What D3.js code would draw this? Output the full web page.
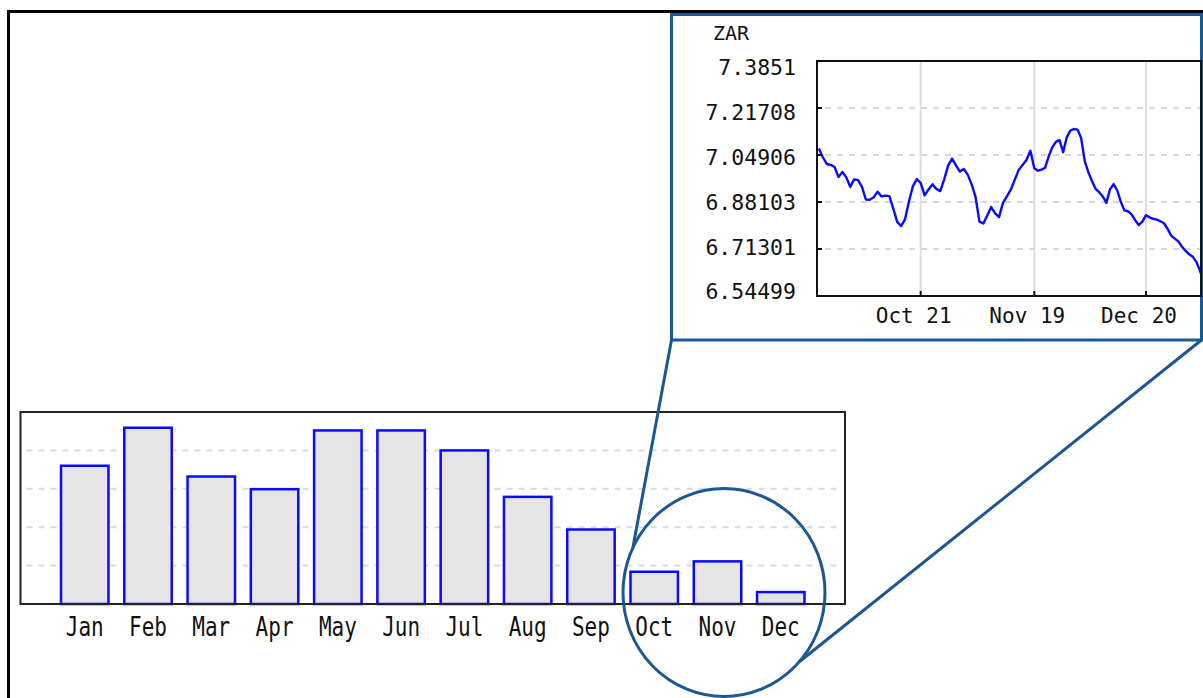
<!DOCTYPE html>
<html>
<head>
<meta charset="utf-8">
<script src="https://cdn.jsdelivr.net/npm/d3@7"></script>
<style>
  body { margin: 0; background: #fff; }
  text { font-family: "DejaVu Sans Mono", monospace; fill: #111; }
</style>
</head>
<body>
<script>
// monthly bars
const months = ["Jan", "Feb", "Mar", "Apr", "May", "Jun", "Jul", "Aug", "Sep", "Oct", "Nov", "Dec"];
const monthValues = [3.6, 4.59, 3.32, 2.99, 4.52, 4.52, 4.0, 2.79, 1.94, 0.84, 1.11, 0.31];
const barGridValues = [1, 2, 3, 4];

// ZAR daily series, one value per calendar day from 25 Sep 2010
const zarStart = new Date(2010, 8, 25);
const zarValues = [
  7.072, 7.041, 7.017, 7.014, 7.006, 6.970, 6.988, 6.969, 6.935, 6.962,
  6.959, 6.935, 6.890, 6.889, 6.898, 6.918, 6.901, 6.904, 6.902, 6.857,
  6.810, 6.795, 6.819, 6.883, 6.937, 6.963, 6.949, 6.905, 6.926, 6.944,
  6.928, 6.920, 6.962, 7.011, 7.036, 7.012, 6.990, 6.999, 6.979, 6.944,
  6.899, 6.811, 6.804, 6.833, 6.863, 6.840, 6.827, 6.878, 6.901, 6.925,
  6.960, 6.995, 7.013, 7.031, 7.064, 7.002, 6.993, 6.997, 7.003, 7.044,
  7.077, 7.096, 7.102, 7.059, 7.112, 7.136, 7.142, 7.140, 7.110, 7.027,
  6.988, 6.956, 6.928, 6.916, 6.901, 6.878, 6.926, 6.945, 6.923, 6.882,
  6.851, 6.848, 6.837, 6.816, 6.799, 6.811, 6.834, 6.826, 6.821, 6.818,
  6.812, 6.805, 6.785, 6.761, 6.750, 6.740, 6.721, 6.706, 6.694, 6.685,
  6.667, 6.635, 6.595
];
const zarTicks = [6.54499, 6.71301, 6.88103, 7.04906, 7.21708, 7.3851];
const zarDateTicks = [new Date(2010, 9, 21), new Date(2010, 10, 19), new Date(2010, 11, 20)];

const width = 1203;
const height = 698;
const frameBlue = "#1b5893";

const svg = d3
  .select("body")
  .append("svg")
  .attr("width", width)
  .attr("height", height);

// outer frame
svg
  .append("rect")
  .attr("x", 8.5)
  .attr("y", 11.5)
  .attr("width", 1210)
  .attr("height", 720)
  .attr("fill", "#fff")
  .attr("stroke", "#000")
  .attr("stroke-width", 3);

// ---------- bar chart ----------
const bar = { left: 20.5, right: 845, top: 412, bottom: 604 };

const xBar = d3
  .scaleBand()
  .domain(months)
  .range([bar.left, bar.right])
  .paddingInner(0.25)
  .paddingOuter(0.64);

const yBar = d3.scaleLinear().domain([0, 5]).range([bar.bottom, bar.top]);

svg
  .append("g")
  .selectAll("line")
  .data(barGridValues)
  .enter()
  .append("line")
  .attr("x1", bar.left + 6)
  .attr("x2", bar.right - 4)
  .attr("y1", (d) => yBar(d))
  .attr("y2", (d) => yBar(d))
  .attr("stroke", "#dadada")
  .attr("stroke-width", 2)
  .attr("stroke-dasharray", "6,6");

svg
  .append("g")
  .selectAll("rect")
  .data(monthValues)
  .enter()
  .append("rect")
  .attr("x", (d, i) => xBar(months[i]))
  .attr("y", (d) => yBar(d))
  .attr("width", xBar.bandwidth())
  .attr("height", (d) => yBar(0) - yBar(d))
  .attr("fill", "#e5e5e5")
  .attr("stroke", "#0a0aff")
  .attr("stroke-width", 2.5);

svg
  .append("rect")
  .attr("x", bar.left)
  .attr("y", bar.top)
  .attr("width", bar.right - bar.left)
  .attr("height", bar.bottom - bar.top)
  .attr("fill", "none")
  .attr("stroke", "#222")
  .attr("stroke-width", 2);

svg
  .append("g")
  .selectAll("text")
  .data(months)
  .enter()
  .append("text")
  .attr("transform", (d) => `translate(${xBar(d) + xBar.bandwidth() / 2}, 636) scale(1, 1.3)`)
  .attr("text-anchor", "middle")
  .attr("font-size", 21)
  .text((d) => d);

// ---------- zoom annotation ----------
const lens = { cx: 724, cy: 592.5, rx: 101, ry: 104 };

svg
  .append("line")
  .attr("x1", 671.5)
  .attr("y1", 340)
  .attr("x2", 633)
  .attr("y2", 547)
  .attr("stroke", frameBlue)
  .attr("stroke-width", 3);

svg
  .append("line")
  .attr("x1", 1201.5)
  .attr("y1", 340)
  .attr("x2", 799)
  .attr("y2", 662)
  .attr("stroke", frameBlue)
  .attr("stroke-width", 3);

svg
  .append("ellipse")
  .attr("cx", lens.cx)
  .attr("cy", lens.cy)
  .attr("rx", lens.rx)
  .attr("ry", lens.ry)
  .attr("fill", "none")
  .attr("stroke", frameBlue)
  .attr("stroke-width", 3);

// ---------- inset line chart ----------
svg
  .append("rect")
  .attr("x", 671.5)
  .attr("y", 14.5)
  .attr("width", 530)
  .attr("height", 325.5)
  .attr("fill", "#fff")
  .attr("stroke", frameBlue)
  .attr("stroke-width", 3);

const plot = { left: 817, right: 1201, top: 61, bottom: 296 };

const xZar = d3
  .scaleTime()
  .domain([zarStart, zarDateTicks[0], zarDateTicks[1], zarDateTicks[2], new Date(2011, 0, 5)])
  .range([818.9, 920.7, 1034.3, 1146, 1203.6]);

const yZar = d3
  .scaleLinear()
  .domain([zarTicks[0], zarTicks[zarTicks.length - 1]])
  .range([plot.bottom, plot.top]);

// labels sit a little off the grid in the original
const yZarLabel = d3
  .scaleLinear()
  .domain([zarTicks[0], zarTicks[zarTicks.length - 1]])
  .range([291.7, 67]);

svg
  .append("defs")
  .append("clipPath")
  .attr("id", "plot-clip")
  .append("rect")
  .attr("x", plot.left)
  .attr("y", plot.top)
  .attr("width", plot.right - plot.left)
  .attr("height", plot.bottom - plot.top);

const grid = svg.append("g").attr("clip-path", "url(#plot-clip)");

grid
  .selectAll(".vgrid")
  .data(zarDateTicks)
  .enter()
  .append("line")
  .attr("class", "vgrid")
  .attr("x1", (d) => xZar(d))
  .attr("x2", (d) => xZar(d))
  .attr("y1", plot.top)
  .attr("y2", plot.bottom)
  .attr("stroke", "#dedede")
  .attr("stroke-width", 2);

grid
  .selectAll(".hgrid")
  .data(zarTicks.slice(1, -1))
  .enter()
  .append("line")
  .attr("class", "hgrid")
  .attr("x1", plot.left + 8)
  .attr("x2", plot.right)
  .attr("y1", (d) => yZar(d))
  .attr("y2", (d) => yZar(d))
  .attr("stroke", "#d8d8d8")
  .attr("stroke-width", 2)
  .attr("stroke-dasharray", "6,6");

const line = d3
  .line()
  .x((d, i) => xZar(d3.timeDay.offset(zarStart, i)))
  .y((d) => yZar(d));

grid
  .append("path")
  .datum(zarValues)
  .attr("d", line)
  .attr("fill", "none")
  .attr("stroke", "#0a0aff")
  .attr("stroke-width", 2.4)
  .attr("stroke-linejoin", "round");

svg
  .append("rect")
  .attr("x", plot.left)
  .attr("y", plot.top)
  .attr("width", plot.right - plot.left)
  .attr("height", plot.bottom - plot.top)
  .attr("fill", "none")
  .attr("stroke", "#111")
  .attr("stroke-width", 2);

// inward tick marks
svg
  .append("g")
  .selectAll("line")
  .data(zarTicks.slice(1, -1))
  .enter()
  .append("line")
  .attr("x1", plot.left)
  .attr("x2", plot.left + 5)
  .attr("y1", (d) => yZar(d))
  .attr("y2", (d) => yZar(d))
  .attr("stroke", "#111")
  .attr("stroke-width", 2);

svg
  .append("g")
  .selectAll("line")
  .data(zarDateTicks)
  .enter()
  .append("line")
  .attr("x1", (d) => xZar(d))
  .attr("x2", (d) => xZar(d))
  .attr("y1", plot.bottom)
  .attr("y2", plot.bottom - 5)
  .attr("stroke", "#111")
  .attr("stroke-width", 2);

svg
  .append("g")
  .selectAll("text")
  .data(zarTicks)
  .enter()
  .append("text")
  .attr("x", 796)
  .attr("y", (d) => yZarLabel(d))
  .attr("dy", "0.36em")
  .attr("text-anchor", "end")
  .attr("font-size", 21.5)
  .text((d) => String(d));

svg
  .append("g")
  .selectAll("text")
  .data(zarDateTicks)
  .enter()
  .append("text")
  .attr("x", (d) => xZar(d) - 7)
  .attr("y", 315.5)
  .attr("dy", "0.36em")
  .attr("text-anchor", "middle")
  .attr("font-size", 21)
  .text(d3.timeFormat("%b %d"));

svg
  .append("text")
  .attr("x", 713)
  .attr("y", 33)
  .attr("dy", "0.36em")
  .attr("font-size", 20)
  .text("ZAR");
</script>
</body>
</html>
